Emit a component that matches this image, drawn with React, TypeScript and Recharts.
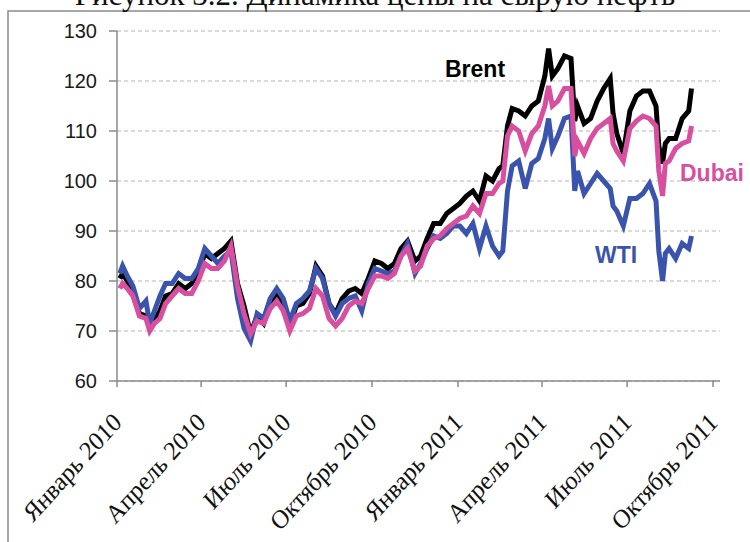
import React from 'react';
import { LineChart, Line, XAxis, YAxis, CartesianGrid } from 'recharts';

const title = 'Рисунок 3.2. Динамика цены на сырую нефть';

const dates = [
  '2010-01-04','2010-01-07','2010-01-12','2010-01-18','2010-01-25','2010-02-01','2010-02-05','2010-02-10','2010-02-16','2010-02-22',
  '2010-03-01','2010-03-08','2010-03-15','2010-03-22','2010-03-29','2010-04-05','2010-04-12','2010-04-19','2010-04-26','2010-05-03',
  '2010-05-10','2010-05-17','2010-05-24','2010-05-31','2010-06-07','2010-06-14','2010-06-21','2010-06-28','2010-07-05','2010-07-12',
  '2010-07-19','2010-07-26','2010-08-02','2010-08-09','2010-08-16','2010-08-23','2010-08-30','2010-09-06','2010-09-13','2010-09-20',
  '2010-09-27','2010-10-04','2010-10-11','2010-10-18','2010-10-25','2010-11-01','2010-11-08','2010-11-16','2010-11-22','2010-11-29',
  '2010-12-06','2010-12-13','2010-12-20','2010-12-27','2011-01-03','2011-01-10','2011-01-17','2011-01-24','2011-01-31','2011-02-07',
  '2011-02-14','2011-02-18','2011-02-23','2011-02-28','2011-03-07','2011-03-14','2011-03-21','2011-03-28','2011-04-04','2011-04-08',
  '2011-04-12','2011-04-18','2011-04-25','2011-05-02','2011-05-06','2011-05-09','2011-05-16','2011-05-23','2011-05-30','2011-06-06',
  '2011-06-13','2011-06-16','2011-06-20','2011-06-27','2011-07-04','2011-07-11','2011-07-18','2011-07-25','2011-08-01','2011-08-04',
  '2011-08-08','2011-08-11','2011-08-15','2011-08-22','2011-08-29','2011-09-05','2011-09-08',
];

const brent = [
  80.5, 81.5, 80, 77.5, 73.5, 73, 70.5, 72.5, 74, 77,
  77.5, 79.5, 78.5, 79.5, 81.5, 85.5, 84.5, 85.5, 86.5, 88,
  79.5, 75, 69.5, 73, 71.5, 75.5, 77.5, 75.5, 71.5, 75,
  75.5, 77.5, 83, 81, 75.5, 73.5, 76.5, 78, 78.5, 77.5,
  80.5, 84, 83.5, 82.5, 83.5, 86.5, 88, 84, 85, 88.5,
  91.5, 91.5, 93.5, 94.5, 95.5, 97, 98, 96, 101, 100,
  102.5, 103, 111, 114.5, 114, 113, 115, 116, 121, 126.5,
  121, 122.5, 125, 124.5, 112, 115, 111.5, 112.5, 116, 118.5,
  120.5, 113.5, 109.5, 105.5, 114, 117, 118, 118, 115, 107,
  103.5, 107.5, 108.5, 108.5, 112.5, 114, 118.5,
];

const dubai = [
  78.5, 79.5, 78.5, 77, 73, 72.5, 70, 71.5, 72.5, 75.5,
  77, 78.5, 77.5, 77.5, 80, 83.5, 82.5, 82.5, 84, 87,
  79, 73.5, 69.5, 72, 71.5, 74.5, 76, 74, 70, 73,
  73.5, 74.5, 78.5, 77, 72.5, 71, 72.5, 75, 76, 75.5,
  78.5, 81, 81, 80.5, 81.5, 85, 86.5, 82, 83, 87,
  88.5, 89, 90.5, 91.5, 92.5, 93, 95, 93.5, 97.5, 97.5,
  99.5, 100, 109, 111, 110, 106, 109.5, 111, 115, 119,
  115, 116, 118.5, 118.5, 105, 108, 105.5, 108.5, 110.5, 111.5,
  112.5, 107.5, 106, 104, 110.5, 112, 113, 112.5, 111, 102,
  97, 103.5, 104, 106.5, 107.5, 108, 111,
];

const wti = [
  81.5, 83, 81, 79, 74.5, 76, 71.5, 74, 77, 79.5,
  79.5, 81.5, 80.5, 80.5, 82.5, 86.5, 85, 83.5, 85, 86,
  76.5, 70.5, 68, 73.5, 72.5, 76.5, 78.5, 76.5, 72, 75.5,
  76.5, 78, 82.5, 80.5, 75.5, 73, 75.5, 76.5, 77, 74,
  79.5, 82.5, 82, 81.5, 82, 85, 87.5, 81.5, 83.5, 86.5,
  89, 88.5, 89.5, 91, 91, 89.5, 91.5, 86.5, 91, 87,
  85, 86, 98, 103, 104, 98.5, 103.5, 104.5, 108.5, 112.5,
  106.5, 109, 112.5, 113, 98, 102, 97.5, 99.5, 101.5, 100,
  98.5, 95, 94, 91, 96.5, 96.5, 97.5, 99.5, 96, 86,
  80, 85.5, 86.5, 84.5, 87.5, 86.5, 89,
];

const tickDates = ['2010-01-01', '2010-04-01', '2010-07-01', '2010-10-01', '2011-01-01', '2011-04-01', '2011-07-01', '2011-10-01'];
const tickLabels = ['Январь 2010', 'Апрель 2010', 'Июль 2010', 'Октябрь 2010', 'Январь 2011', 'Апрель 2011', 'Июль 2011', 'Октябрь 2011'];
const yTicks = [60, 70, 80, 90, 100, 110, 120, 130];
const seriesNames = ['Brent', 'Dubai', 'WTI'];

const ORIGIN = Date.UTC(2010, 0, 1);
const toDay = (s: string) => {
  const [y, m, d] = s.split('-').map(Number);
  return (Date.UTC(y, m - 1, d) - ORIGIN) / 86400000;
};

const data = dates.map((d, i) => ({ day: toDay(d), brent: brent[i], dubai: dubai[i], wti: wti[i] }));
const tickDays = tickDates.map(toDay);
const labelByDay = new Map<number, string>(tickDays.map((d, i) => [d, tickLabels[i]]));

const XTick = (props: any) => {
  const { x, y, payload } = props;
  const label = labelByDay.get(payload.value) ?? '';
  return (
    <g transform={`translate(${x + 6},${y + 35})`}>
      <text
        transform="scale(1,1.1) rotate(-45)"
        textAnchor="end"
        fontFamily="'Liberation Serif', 'Times New Roman', serif"
        fontSize={24}
        fill="#111"
      >
        {label}
      </text>
    </g>
  );
};

const COLORS = { brent: '#000000', dubai: '#d94f9f', wti: '#3a54ad' };

export default function App() {
  return (
    <div style={{ position: 'absolute', left: 0, top: 0, width: 750, height: 542, background: '#fff', overflow: 'hidden' }}>
      <LineChart width={750} height={542} data={data} margin={{ top: 31, right: 30, bottom: 31, left: 57 }}>
        <CartesianGrid horizontal vertical={false} stroke="#b5b5b5" strokeDasharray="4 3" />
        <XAxis
          type="number"
          dataKey="day"
          domain={[0, 645.5]}
          ticks={tickDays}
          interval={0}
          allowDataOverflow
          height={130}
          tick={<XTick />}
          tickSize={6}
          stroke="#8a8a8a"
          strokeWidth={1.5}
        />
        <YAxis
          type="number"
          domain={[60, 130]}
          ticks={yTicks}
          interval={0}
          width={60}
          tickSize={8}
          tickMargin={12}
          stroke="#8a8a8a"
          strokeWidth={1.5}
          tick={{ fontSize: 20, fill: '#1a1a1a', fontFamily: "'Liberation Sans', Arial, sans-serif" }}
        />
        <Line type="linear" dataKey="brent" name={seriesNames[0]} stroke={COLORS.brent} strokeWidth={5} dot={false} isAnimationActive={false} />
        <Line type="linear" dataKey="wti" name={seriesNames[2]} stroke={COLORS.wti} strokeWidth={5} dot={false} isAnimationActive={false} />
        <Line type="linear" dataKey="dubai" name={seriesNames[1]} stroke={COLORS.dubai} strokeWidth={5} dot={false} isAnimationActive={false} />
      </LineChart>
      <svg width={750} height={542} style={{ position: 'absolute', left: 0, top: 0, pointerEvents: 'none' }}>
        <rect x={8} y={11} width={760} height={560} fill="none" stroke="#8a8a8a" strokeWidth={1.5} />
        <text x={375} y={5} textAnchor="middle" fontFamily="'Liberation Serif', 'Times New Roman', serif" fontSize={31} fill="#111">
          {title}
        </text>
        <text x={445} y={77} fontFamily="'Liberation Sans', Arial, sans-serif" fontWeight="bold" fontSize={23} fill={COLORS.brent}>
          {seriesNames[0]}
        </text>
        <text x={680} y={181} fontFamily="'Liberation Sans', Arial, sans-serif" fontWeight="bold" fontSize={23} fill={COLORS.dubai}>
          {seriesNames[1]}
        </text>
        <text x={595} y={263} fontFamily="'Liberation Sans', Arial, sans-serif" fontWeight="bold" fontSize={23} fill={COLORS.wti}>
          {seriesNames[2]}
        </text>
      </svg>
    </div>
  );
}
